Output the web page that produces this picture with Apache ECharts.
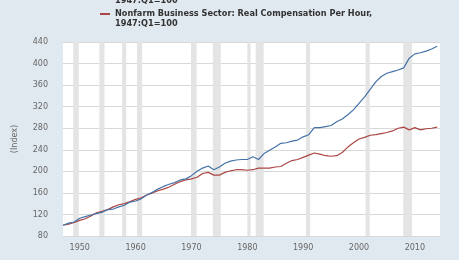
<!DOCTYPE html>
<html>
<head>
<meta charset="utf-8">
<script src="https://cdn.jsdelivr.net/npm/echarts@6/dist/echarts.min.js"></script>
<style>
  html, body { margin: 0; padding: 0; background: #e1e9f0; }
  #chart { width: 459px; height: 260px; }
</style>
</head>
<body>
<div id="chart"></div>
<script>
var years = [1947, 1948, 1949, 1950, 1951, 1952, 1953, 1954, 1955, 1956,
    1957, 1958, 1959, 1960, 1961, 1962, 1963, 1964, 1965, 1966,
    1967, 1968, 1969, 1970, 1971, 1972, 1973, 1974, 1975, 1976,
    1977, 1978, 1979, 1980, 1981, 1982, 1983, 1984, 1985, 1986,
    1987, 1988, 1989, 1990, 1991, 1992, 1993, 1994, 1995, 1996,
    1997, 1998, 1999, 2000, 2001, 2002, 2003, 2004, 2005, 2006,
    2007, 2008, 2009, 2010, 2011, 2012, 2013, 2014];

// Output per hour of all persons
var outputPerHour = [100, 104, 106, 113, 116, 119, 122, 124, 129, 130,
    134, 137, 143, 145, 149, 156, 161, 167, 172, 176,
    179, 184, 186, 192, 200, 206, 210, 203, 208, 215,
    219, 221, 222, 222, 227, 222, 233, 239, 245, 252,
    253, 256, 258, 264, 268, 281, 281, 283, 285, 292,
    297, 305, 314, 326, 338, 352, 366, 376, 382, 385,
    388, 392, 410, 418, 420, 423, 427, 432];

// Real compensation per hour
var realComp = [100, 102, 105, 109, 112, 117, 123, 126, 129, 134,
    138, 140, 144, 148, 151, 156, 160, 164, 167, 171,
    176, 181, 184, 186, 189, 196, 198, 193, 193, 198,
    201, 203, 203, 202, 203, 206, 206, 206, 208, 209,
    215, 220, 222, 226, 230, 234, 232, 229, 228, 229,
    235, 245, 253, 260, 263, 267, 268, 270, 272, 275,
    280, 282, 277, 281, 277, 279, 280, 282];

// NBER recessions (decimal years)
var recessions = [[1948.83, 1949.83], [1953.5, 1954.42], [1957.58, 1958.33],
    [1960.25, 1961.17], [1969.92, 1970.92], [1973.83, 1975.25],
    [1980.0, 1980.58], [1981.5, 1982.92], [1990.5, 1991.25],
    [2001.17, 2001.92], [2007.92, 2009.5]];

var yearTicks = [1950, 1960, 1970, 1980, 1990, 2000, 2010];

function pairs(vals) {
    return years.map(function (y, i) { return [y, vals[i]]; });
}

var myChart = echarts.init(document.getElementById('chart'));

var legendFont = 'bold 8.2px DejaVu Sans';

option = {
    backgroundColor: '#e1e9f0',
    animation: false,
    textStyle: { fontFamily: 'DejaVu Sans' },
    grid: {
        left: 63,
        right: 19,
        top: 42,
        bottom: 24,
        show: true,
        backgroundColor: '#ffffff',
        borderWidth: 0
    },
    xAxis: {
        type: 'value',
        min: 1947,
        max: 2014.5,
        axisLine: { show: false },
        axisTick: { show: false },
        splitLine: { show: false },
        axisLabel: {
            customValues: yearTicks,
            formatter: function (v) { return String(v); },
            color: '#666',
            fontSize: 8,
            margin: 8
        }
    },
    yAxis: {
        type: 'value',
        min: 80,
        max: 440,
        interval: 40,
        name: '(Index)',
        nameLocation: 'middle',
        nameGap: 44,
        nameTextStyle: { color: '#666', fontSize: 8 },
        axisLine: { show: false },
        axisTick: { show: false },
        axisLabel: { color: '#666', fontSize: 8, margin: 15 },
        splitLine: { lineStyle: { color: '#d8d8d8', width: 1 } }
    },
    graphic: [
        {
            type: 'line', shape: { x1: 100, y1: -9, x2: 110, y2: -9 },
            style: { stroke: '#4572a7', lineWidth: 2 }
        },
        {
            type: 'text', left: 115, top: -14,
            style: {
                text: 'Nonfarm Business Sector: Output Per Hour of All Persons,\n1947:Q1=100',
                fill: '#333', font: legendFont, lineHeight: 10
            }
        },
        {
            type: 'line', shape: { x1: 100, y1: 14, x2: 110, y2: 14 },
            style: { stroke: '#aa4643', lineWidth: 2 }
        },
        {
            type: 'text', left: 115, top: 9,
            style: {
                text: 'Nonfarm Business Sector: Real Compensation Per Hour,\n1947:Q1=100',
                fill: '#333', font: legendFont, lineHeight: 10
            }
        }
    ],
    series: [
        {
            name: 'Output Per Hour',
            type: 'line',
            showSymbol: false,
            color: '#4572a7',
            lineStyle: { width: 1.2 },
            data: pairs(outputPerHour),
            markArea: {
                silent: true,
                itemStyle: { color: '#e4e4e4' },
                data: recessions.map(function (r) {
                    return [{ xAxis: r[0] }, { xAxis: r[1] }];
                })
            },
            z: 3
        },
        {
            name: 'Real Compensation Per Hour',
            type: 'line',
            showSymbol: false,
            color: '#aa4643',
            lineStyle: { width: 1.2 },
            data: pairs(realComp),
            z: 2
        }
    ]
};
myChart.setOption(option);
</script>
</body>
</html>
